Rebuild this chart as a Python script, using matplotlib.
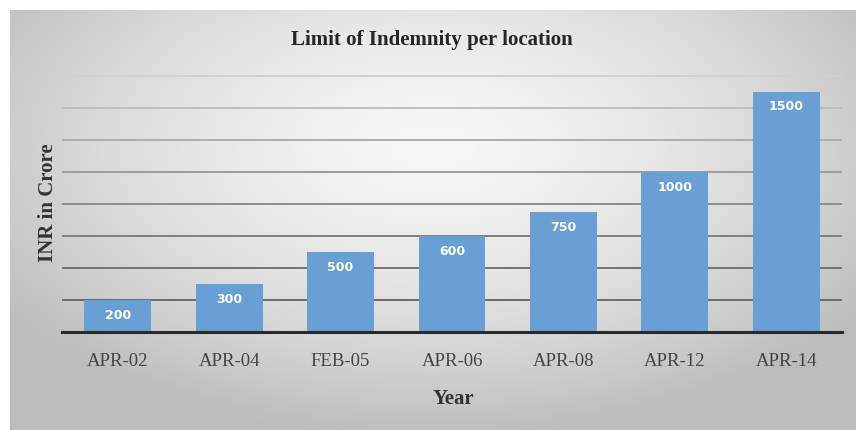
import numpy as np
import matplotlib
matplotlib.use("Agg")
import matplotlib.pyplot as plt

categories = ["APR-02", "APR-04", "FEB-05", "APR-06", "APR-08", "APR-12", "APR-14"]
values = [200, 300, 500, 600, 750, 1000, 1500]
title = "Limit of Indemnity per location"
xlabel = "Year"
ylabel = "INR in Crore"

W, H = 863, 430
fig = plt.figure(figsize=(W / 100, H / 100), dpi=100)
fig.patch.set_facecolor("white")

# gradient panel background
bg = fig.add_axes([10 / W, 0, 845 / W, 420 / H])
bg.set_axis_off()
yy, xx = np.mgrid[-1:1:200j, -1:1:400j]
r = np.sqrt((xx * 0.9) ** 2 + ((yy + 0.35) * 0.8) ** 2)
g = 0.965 - 0.19 * np.clip(r, 0, 1.3) ** 1.6
g = np.clip(g, 0.74, 0.97)
img = np.dstack([g, g, g])
bg.imshow(img, aspect="auto", extent=[0, 1, 0, 1], interpolation="bilinear")
bg.set_xlim(0, 1)
bg.set_ylim(0, 1)

ax = fig.add_axes([62 / W, 1 - 332 / H, 780 / W, (332 - 74) / H])
ax.patch.set_alpha(0)
x = np.arange(len(categories))
bars = ax.bar(x, values, width=0.6, color="#6a9fd6", zorder=3)
ax.set_xlim(-0.5, len(categories) - 0.5)
ax.set_ylim(0, 1610)
grid_levels = np.arange(200, 1601, 200)
ax.set_yticks(grid_levels)
for lv in grid_levels:
    t = (lv - 200) / 1400.0
    c = 0.42 + 0.40 * t ** 1.3
    ax.axhline(lv, color=(c, c, c), linewidth=1.4, zorder=1)
ax.tick_params(axis="y", length=0, labelleft=False)
ax.tick_params(axis="x", length=0, pad=15)
ax.set_xticks(x)
ax.set_xticklabels(categories, fontfamily="Liberation Serif", fontsize=13.5, color="#444444")
for s in ["top", "right", "left"]:
    ax.spines[s].set_visible(False)
ax.spines["bottom"].set_color("#2a2a2a")
ax.spines["bottom"].set_linewidth(2.2)
ax.spines["bottom"].set_zorder(4)

for xi, v in zip(x, values):
    ax.annotate(f"{v}", (xi, v), xytext=(0, -11), textcoords="offset points",
                ha="center", va="center", color="white", fontsize=9,
                fontweight="bold", fontfamily="DejaVu Sans", zorder=5)

fig.text(0.5, 1 - 40 / H, title, ha="center", va="center",
         fontfamily="Liberation Serif", fontweight="bold", fontsize=15, color="#262626")
fig.text(453 / W, 1 - 399 / H, xlabel, ha="center", va="center",
         fontfamily="Liberation Serif", fontweight="bold", fontsize=15, color="#333333")
fig.text(48 / W, 1 - 203 / H, ylabel, ha="center", va="center", rotation=90,
         fontfamily="Liberation Serif", fontweight="bold", fontsize=15, color="#333333")

fig.savefig("out.png", dpi=100)
